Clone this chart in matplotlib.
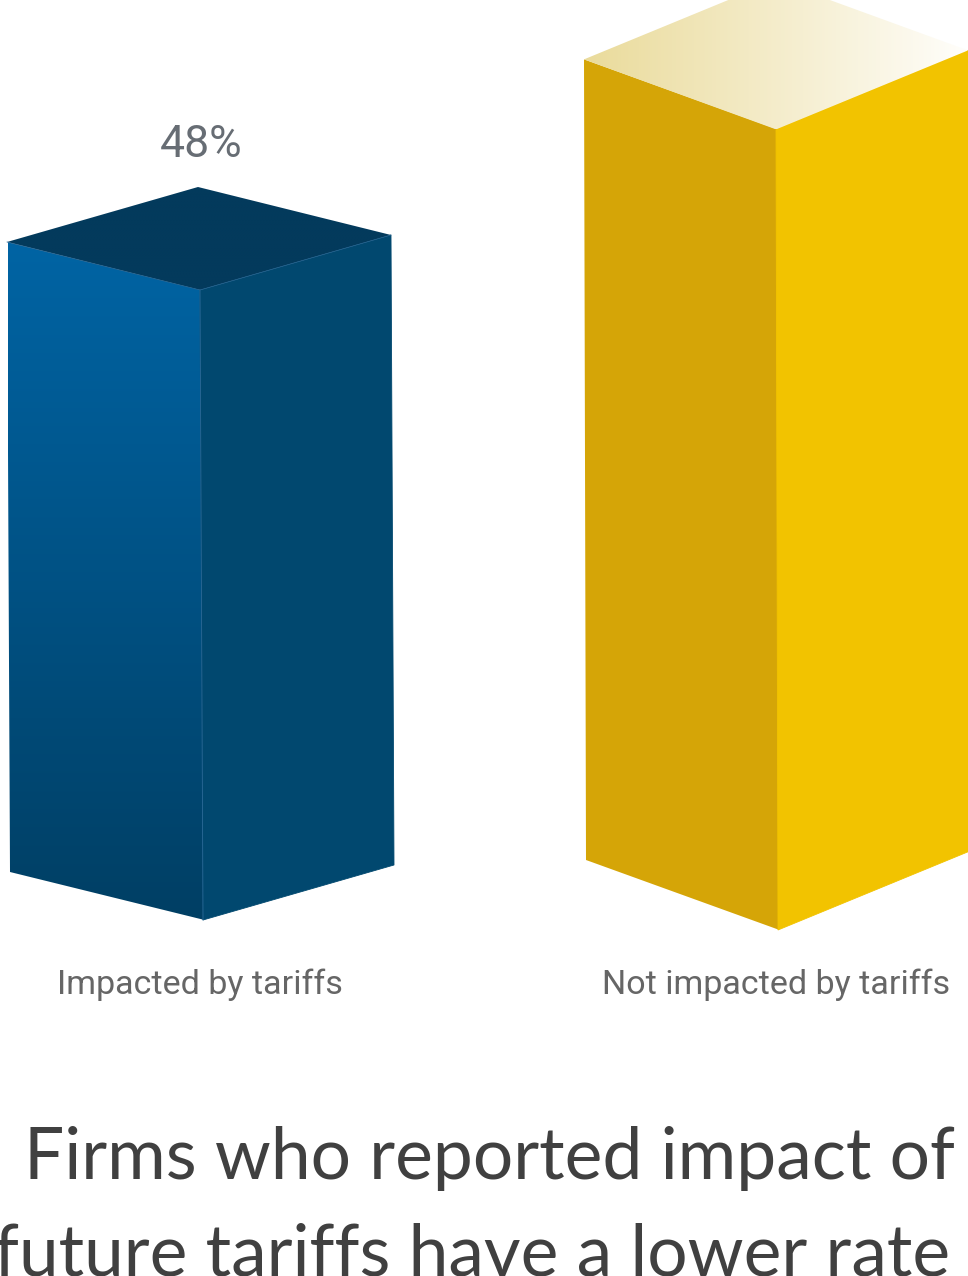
import numpy as np
import matplotlib
matplotlib.use("Agg")
from matplotlib import pyplot as plt
from matplotlib.patches import Polygon
from matplotlib.colors import LinearSegmentedColormap

# data
categories = ["Impacted by tariffs", "Not impacted by tariffs"]
values = [48, 61]
value_labels = ["48%", "61%"]
title_lines = ["Firms who reported impact of", "future tariffs have a lower rate of"]

# layout, in pixels of the 968x1276 canvas
W, H = 968, 1276
K = 630 / 48            # pixels per percentage point
BASE = 920              # pixel row of value 0 for the first bar
bar_x = [203, 778]      # bottom of the front edge of each bar
base_px = [920, 930]
left_w = [193, 192]
right_w = [191, 192]
rise_l = [48, 70]       # left corner above the front edge
rise_r = [55, 79]       # right corner above the front edge
lean = [-3, -2]         # top of front edge vs bottom

# colours
left_top = ["#0064a4", "#d5a507"]
left_bot = ["#013f64", "#d5a507"]
right_col = ["#01486f", "#f2c300"]
top_col = [("#033a5c", "#033a5c"), ("#eadb9b", "#fffefb")]

FONT = ["Roboto", "DejaVu Sans"]
TFONT = ["Lato", "DejaVu Sans"]


def py(p):
    # pixel row -> value units
    return (BASE - p) / K


fig = plt.figure(figsize=(W / 100, H / 100), dpi=100)
ax = fig.add_axes([0, 0, 1, 1])
ax.set_xlim(0, W)
ax.set_ylim(py(H), py(0))
ax.axis("off")

for i, v in enumerate(values):
    y0 = py(base_px[i])
    y1 = y0 + v
    xb = bar_x[i]
    xt = xb + lean[i]
    dl = rise_l[i] / K
    dr = rise_r[i] / K

    fb = (xb, y0)
    ft = (xt, y1)
    lb = (xb - left_w[i], y0 + dl)
    lt = (xt - left_w[i], y1 + dl)
    rb = (xb + right_w[i], y0 + dr)
    rt = (xt + right_w[i], y1 + dr)
    bk = (xt - left_w[i] + right_w[i], y1 + dl + dr)

    # left face, vertical gradient (overlaps the front edge a little)
    left = Polygon([lb, (fb[0] + 1.5, fb[1]), (ft[0] + 1.5, ft[1]), lt],
                   closed=True, fc="none", ec="none")
    ax.add_patch(left)
    cm = LinearSegmentedColormap.from_list("l%d" % i, [left_bot[i], left_top[i]])
    grad = np.linspace(0, 1, 256).reshape(-1, 1)
    im = ax.imshow(grad, cmap=cm, origin="lower", aspect="auto",
                   extent=[lb[0] - 2, ft[0] + 3, y0, y1 + dl], zorder=2,
                   interpolation="bilinear")
    im.set_clip_path(left)

    # right face
    ax.add_patch(Polygon([fb, rb, rt, ft], closed=True, fc=right_col[i],
                         ec=right_col[i], lw=0.6, zorder=3))

    # top face, horizontal gradient
    top = Polygon([lt, ft, rt, bk], closed=True, fc="none", ec="none")
    ax.add_patch(top)
    cm = LinearSegmentedColormap.from_list("t%d" % i, list(top_col[i]))
    grad = np.linspace(0, 1, 256).reshape(1, -1)
    im = ax.imshow(grad, cmap=cm, origin="lower", aspect="auto",
                   extent=[lt[0], rt[0], y1, bk[1] + 0.1], zorder=4,
                   interpolation="bilinear")
    im.set_clip_path(top)

    if i == 0:
        ax.plot([fb[0], ft[0]], [fb[1], ft[1]], color="#2d6a98", lw=0.6, zorder=5)
        ax.plot([lt[0], ft[0], rt[0]], [lt[1], ft[1], rt[1]], color="#2a6896",
                lw=0.5, zorder=5)

    # value label above the top face
    ylab = bk[1] + 30 / K
    if ylab < py(0):
        ax.text(xt + 1, ylab, value_labels[i], ha="center", va="baseline",
                fontsize=32, color="#676d74", family=FONT, zorder=5)

    # category label
    ax.text(xt, py(994), categories[i], ha="center", va="baseline",
            fontsize=24.5, color="#666666", family=FONT)

# title, first line sized to span the same width as the reference
t1 = ax.text(489, py(1179), title_lines[0], ha="center", va="baseline",
             fontsize=57, color="#404040", family=TFONT)
r = fig.canvas.get_renderer()
w = t1.get_window_extent(r).width
fs = 57 * 932 / w
t1.set_fontsize(fs)
ax.text(-6, py(1276), title_lines[1], ha="left", va="baseline",
        fontsize=fs, color="#404040", family=TFONT)

fig.savefig("out.png", dpi=100)
